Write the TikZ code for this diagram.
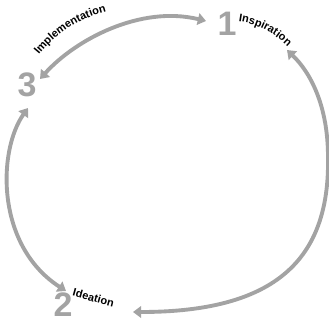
\documentclass[tikz,border=0pt]{standalone}
\usepackage{fontspec}
\setmainfont{Liberation Sans}
\usetikzlibrary{arrows.meta,decorations.text}
\definecolor{cyclegray}{HTML}{A3A3A3}
\tikzset{
  digit/.style={text=cyclegray, font=\bfseries\fontsize{29}{29}\selectfont, inner sep=0pt},
  cyclearrow/.style={draw=cyclegray, line width=3.3pt, {Triangle[length=7pt,width=10pt]}-{Triangle[length=7pt,width=10pt]}},
  curvedlabel/.style={decorate, decoration={text along path, text align=center, text={|\bfseries\fontsize{9.4}{10}\selectfont|#1}}}
}
\begin{document}
\begin{tikzpicture}[x=0.03cm, y=-0.03cm]
\useasboundingbox (0,0) rectangle (329,322);
% stage numbers
\node[digit] (n1) at (227,24) {1};
\node[digit] (n3) at (27,85) {3};
\node[digit] (n2) at (63,305) {2};
% arc end points
\coordinate (a1) at (206,21);
\coordinate (a3) at (40,79);
\coordinate (b3) at (28,108);
\coordinate (b2) at (66,291);
\coordinate (c2) at (133,312);
\coordinate (c1) at (287,50);
\coordinate (cm) at (328,157);
% connectors
\path[cyclearrow] (a3) .. controls (75,40) and (140,5) .. (a1);
\path[cyclearrow] (b3) .. controls (-2,150) and (-5,245) .. (b2);
\path[cyclearrow] (c2) .. controls (275,312) and (330,260) .. (cm) .. controls (328,105) and (310,72) .. (c1);
% curved labels
\path[curvedlabel=Implementation] (34,61) .. controls (55,33) and (80,17) .. (114,10);
\path[curvedlabel=Inspiration] (234,21) .. controls (256,23) and (274,32) .. (291,50);
\path[curvedlabel=Ideation] (69,295) .. controls (84,299) and (100,304) .. (116,308);
\end{tikzpicture}
\end{document}
